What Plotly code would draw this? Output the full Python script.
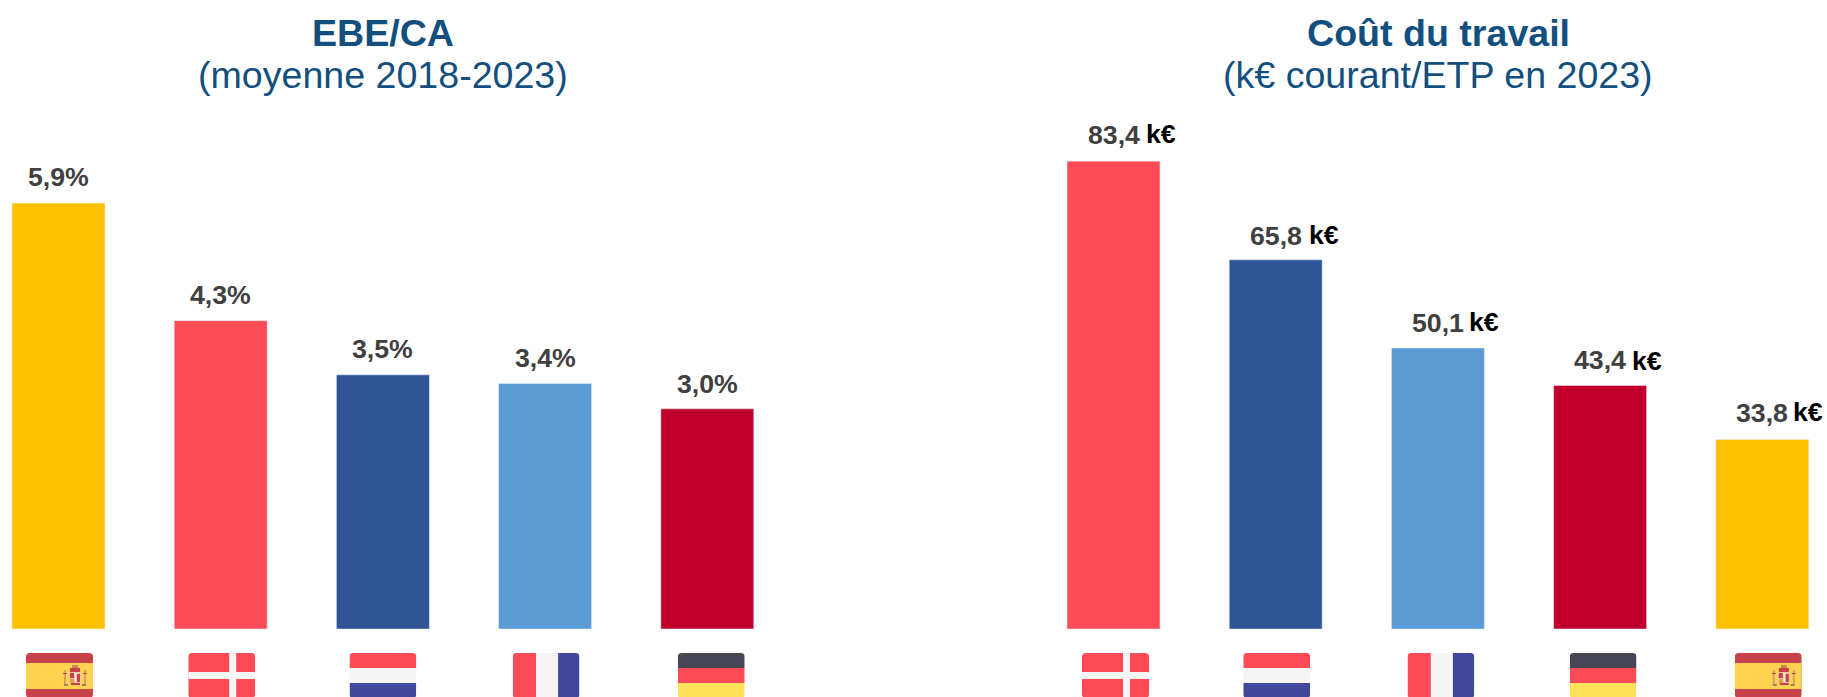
import base64
import plotly.graph_objects as go

# ---- data ----
left_countries = ["Espagne", "Danemark", "Pays-Bas", "France", "Allemagne"]
left_values = [5.9, 4.27, 3.52, 3.4, 3.05]
left_labels = ["5,9%", "4,3%", "3,5%", "3,4%", "3,0%"]

right_countries = ["Danemark", "Pays-Bas", "France", "Allemagne", "Espagne"]
right_values = [83.4, 65.8, 50.1, 43.4, 33.8]
right_labels = ["83,4", "65,8", "50,1", "43,4", "33,8"]
unit_label = "k€"

left_title = ["EBE/CA", "(moyenne 2018-2023)"]
right_title = ["Coût du travail", "(k€ courant/ETP en 2023)"]

country_colors = {
    "Espagne": "#FFC000",
    "Danemark": "#FF4B55",
    "Pays-Bas": "#2F5597",
    "France": "#5B9BD5",
    "Allemagne": "#C0002B",
}

# ---- flags (inline SVG, viewBox 67x45) ----
def flag_svg(body):
    svg = ('<svg xmlns="http://www.w3.org/2000/svg" width="268" height="180" viewBox="0 0 67 45">'
           '<defs><clipPath id="c"><rect width="67" height="45" rx="4" ry="4"/></clipPath></defs>'
           f'<g clip-path="url(#c)">{body}</g></svg>')
    return "data:image/svg+xml;base64," + base64.b64encode(svg.encode()).decode()

def r(x, y, w, h, c):
    return f'<rect x="{x}" y="{y}" width="{w}" height="{h}" fill="{c}"/>'

RED, BLUE, WHITE, DARK, YEL = "#FF4B55", "#41479B", "#F5F5F5", "#464655", "#FFE15A"
flags = {
    "Espagne": flag_svg(
        r(0, 0, 67, 45, "#C8414B") + r(0, 10, 67, 26, "#FFD250")
        + r(38, 17, 2, 14, "#D8A060") + r(58, 17, 2, 14, "#D8A060")
        + r(37, 20, 4, 1, "#C8414B") + r(57, 20, 4, 1, "#C8414B")
        + r(44, 15, 10, 4, "#C8414B") + r(46, 12, 6, 3, "#C98A50")
        + r(43, 19, 12, 11, "#F0C8A0") + r(44, 20, 4, 5, "#C8414B")
        + r(49, 20, 1, 9, "#F5F5F5") + r(51, 21, 3, 8, "#C8414B")
        + r(44, 26, 4, 4, "#E0A040") + r(45, 30, 9, 2, "#C8414B")
        + r(38, 31, 4, 2, "#A08060") + r(56, 31, 4, 2, "#A08060")),
    "Danemark": flag_svg(r(0, 0, 67, 45, RED) + r(0, 19, 67, 7, WHITE) + r(41, 0, 7, 45, WHITE)),
    "Pays-Bas": flag_svg(r(0, 0, 67, 15, RED) + r(0, 15, 67, 15, WHITE) + r(0, 30, 67, 15, BLUE)),
    "France": flag_svg(r(0, 0, 23.5, 45, RED) + r(23.5, 0, 22, 45, WHITE) + r(45.5, 0, 21.5, 45, BLUE)),
    "Allemagne": flag_svg(r(0, 0, 67, 15, DARK) + r(0, 15, 67, 15, RED) + r(0, 30, 67, 15, YEL)),
}

# ---- layout constants ----
W, H = 1827, 697
BASE_PX = 629
BAND = 162.2
LEFT_C0, RIGHT_C0 = 58.5, 1113.5
LEFT_SPLIT, RIGHT_SPLIT = 800, 1000
FONT = "Liberation Sans, Arial, sans-serif"
TITLE_COLOR = "#134F7E"
LABEL_COLOR = "#404040"
FLAG_W, FLAG_H = 67, 45
left_flag_shift = [1, 1, 0, 1, 4]
right_flag_shift = [2, 1, 3, 3, 6]
left_label_lift = [26, 26, 26, 26, 25]
right_label_lift = [26, 24, 25, 26, 26]
right_unit_gap = [30, 31, 29, 30, 29]
right_unit_lift = [27, 25, 26, 25, 27]

fig = go.Figure()
fig.add_bar(x=left_countries, y=left_values, width=0.573,
            marker_color=[country_colors[c] for c in left_countries],
            xaxis="x", yaxis="y", hoverinfo="x+y")
fig.add_bar(x=right_countries, y=right_values, width=0.573,
            marker_color=[country_colors[c] for c in right_countries],
            xaxis="x2", yaxis="y2", hoverinfo="x+y")

ann, imgs = [], []

def add_labels(xref, yref, cats, vals, labs, lifts):
    for c, v, t, l in zip(cats, vals, labs, lifts):
        ann.append(dict(x=c, y=v, xref=xref, yref=yref, text=f"<b>{t}</b>", showarrow=False,
                        xanchor="center", yanchor="middle", yshift=l,
                        font=dict(family=FONT, size=26.7, color=LABEL_COLOR)))

add_labels("x", "y", left_countries, left_values, left_labels, left_label_lift)
add_labels("x2", "y2", right_countries, right_values, right_labels, right_label_lift)
for c, v, g, l in zip(right_countries, right_values, right_unit_gap, right_unit_lift):
    ann.append(dict(x=c, y=v, xref="x2", yref="y2", text=f"<b>{unit_label}</b>", showarrow=False,
                    xanchor="left", yanchor="middle", xshift=g, yshift=l,
                    font=dict(family=FONT, size=26.7, color="#000000")))

def add_title(lines, cx):
    for i, (t, y) in enumerate(zip(lines, (33, 75))):
        ann.append(dict(x=cx / W, y=1 - y / H, xref="paper", yref="paper", showarrow=False,
                        text=f"<b>{t}</b>" if i == 0 else t, xanchor="center", yanchor="middle",
                        font=dict(family=FONT, size=37.6, color=TITLE_COLOR)))

add_title(left_title, 383)
add_title(right_title, 1438)

def add_flags(xref, cats, shifts):
    for i, (c, s) in enumerate(zip(cats, shifts)):
        imgs.append(dict(source=flags[c], xref=xref, yref="paper", x=i + s / BAND,
                         y=1 - 653 / H, sizex=FLAG_W / BAND, sizey=FLAG_H / H,
                         xanchor="center", yanchor="top", sizing="stretch", layer="above"))

add_flags("x", left_countries, left_flag_shift)
add_flags("x2", right_countries, right_flag_shift)

bottom = (H - BASE_PX) / H
fig.update_layout(
    width=W, height=H, margin=dict(l=0, r=0, t=0, b=0),
    paper_bgcolor="white", plot_bgcolor="white", showlegend=False,
    annotations=ann, images=imgs,
    xaxis=dict(domain=[0, LEFT_SPLIT / W], range=[-LEFT_C0 / BAND, (LEFT_SPLIT - LEFT_C0) / BAND],
               type="category", categoryorder="array", categoryarray=left_countries, visible=False),
    yaxis=dict(domain=[bottom, 1], range=[0, BASE_PX / 72.2], visible=False),
    xaxis2=dict(domain=[RIGHT_SPLIT / W, 1],
                range=[(RIGHT_SPLIT - RIGHT_C0) / BAND, (W - RIGHT_C0) / BAND],
                type="category", categoryorder="array", categoryarray=right_countries,
                visible=False, anchor="y2"),
    yaxis2=dict(domain=[bottom, 1], range=[0, BASE_PX / 5.61], visible=False, anchor="x2"),
)

fig.write_html("out.html", config={"displayModeBar": False},
               post_script="document.body.style.margin='0';document.body.style.overflow='hidden';")
